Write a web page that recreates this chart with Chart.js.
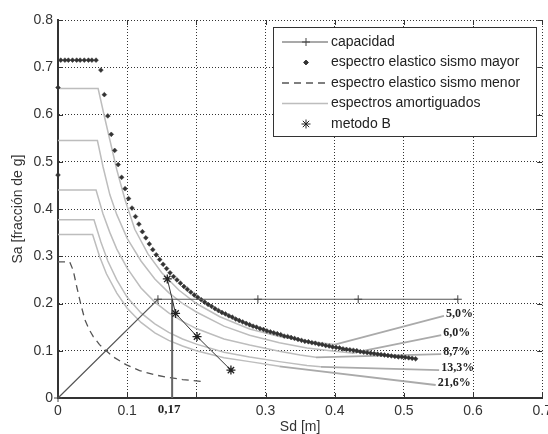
<!DOCTYPE html>
<html>
<head>
<meta charset="utf-8">
<script src="https://cdn.jsdelivr.net/npm/chart.js@4"></script>
<style>
  html, body { margin: 0; padding: 0; background: #fff; }
  #wrap { width: 548px; height: 434px; }
</style>
</head>
<body>
<div id="wrap"><canvas id="chart" width="548" height="434"></canvas></div>
<script>
// tick labels (0.2 is hidden behind the 0,17 mark in the original)
var xTickLabels = ['0', '0.1', '', '0.3', '0.4', '0.5', '0.6', '0.7'];
var yTickLabels = ['0', '0.1', '0.2', '0.3', '0.4', '0.5', '0.6', '0.7', '0.8'];

// capacity curve
var capSd = [0, 0.1445, 0.289, 0.434, 0.578];
var capSa = [0, 0.209, 0.209, 0.209, 0.209];

// elastic spectrum, major earthquake (dots)
var mayorSd = [0, 0, 0.004, 0.010, 0.015, 0.021, 0.027, 0.032, 0.038, 0.044, 0.049, 0.055,
  0.062, 0.067, 0.072, 0.077, 0.082, 0.087, 0.092, 0.097, 0.102, 0.107,
  0.112, 0.117, 0.122, 0.127, 0.132, 0.137, 0.142, 0.147, 0.152, 0.157,
  0.162, 0.167, 0.172, 0.177, 0.182, 0.187, 0.192, 0.197, 0.202, 0.207,
  0.212, 0.217, 0.222, 0.227, 0.232, 0.237, 0.242, 0.247, 0.252, 0.257,
  0.262, 0.267, 0.272, 0.277, 0.282, 0.287, 0.292, 0.297, 0.302, 0.307,
  0.312, 0.317, 0.322, 0.327, 0.332, 0.337, 0.342, 0.347, 0.352, 0.357,
  0.362, 0.367, 0.372, 0.377, 0.382, 0.387, 0.392, 0.397, 0.402, 0.407,
  0.412, 0.417, 0.422, 0.427, 0.432, 0.437, 0.442, 0.447, 0.452, 0.457,
  0.462, 0.467, 0.472, 0.477, 0.482, 0.487, 0.492, 0.497, 0.502, 0.507,
  0.512, 0.517];
var mayorSa = [0.472, 0.657, 0.715, 0.715, 0.715, 0.715, 0.715, 0.715, 0.715, 0.715, 0.715, 0.715,
  0.694, 0.642, 0.597, 0.558, 0.524, 0.494, 0.467, 0.443, 0.422, 0.402,
  0.384, 0.368, 0.352, 0.339, 0.326, 0.314, 0.303, 0.293, 0.283, 0.274,
  0.265, 0.257, 0.250, 0.243, 0.236, 0.230, 0.224, 0.218, 0.213, 0.208,
  0.203, 0.198, 0.194, 0.189, 0.185, 0.181, 0.178, 0.174, 0.171, 0.167,
  0.164, 0.161, 0.158, 0.155, 0.152, 0.150, 0.147, 0.145, 0.142, 0.140,
  0.138, 0.136, 0.134, 0.131, 0.130, 0.128, 0.126, 0.124, 0.122, 0.120,
  0.119, 0.117, 0.116, 0.114, 0.113, 0.111, 0.110, 0.108, 0.107, 0.106,
  0.104, 0.103, 0.102, 0.101, 0.100, 0.098, 0.097, 0.096, 0.095, 0.094,
  0.093, 0.092, 0.091, 0.090, 0.089, 0.088, 0.087, 0.087, 0.086, 0.085,
  0.084, 0.083];

// elastic spectrum, minor earthquake (dashed)
var menorSd = [0, 0.017, 0.022, 0.027, 0.033, 0.039, 0.045, 0.051, 0.060, 0.068, 0.080, 0.099, 0.118, 0.140, 0.157, 0.180, 0.207];
var menorSa = [0.288, 0.288, 0.270, 0.236, 0.198, 0.165, 0.145, 0.130, 0.113, 0.102, 0.087, 0.070, 0.058, 0.049, 0.044, 0.039, 0.035];

// damped spectra
var dampLabels = ['5,0%', '6,0%', '8,7%', '13,3%', '21,6%'];
var amort1Sd = [0, 0.058, 0.068, 0.075, 0.085, 0.097, 0.111, 0.130, 0.150, 0.175, 0.200, 0.234, 0.277, 0.320, 0.360, 0.400];
var amort1Sa = [0.655, 0.655, 0.590, 0.546, 0.483, 0.419, 0.357, 0.305, 0.265, 0.228, 0.200, 0.172, 0.146, 0.130, 0.120, 0.113];
var amort2Sd = [0, 0.057, 0.065, 0.075, 0.085, 0.100, 0.120, 0.140, 0.160, 0.180, 0.200, 0.240, 0.277, 0.320, 0.360, 0.400, 0.425];
var amort2Sa = [0.545, 0.545, 0.490, 0.430, 0.388, 0.338, 0.290, 0.252, 0.223, 0.200, 0.182, 0.152, 0.133, 0.117, 0.106, 0.099, 0.095];
var amort3Sd = [0, 0.055, 0.065, 0.075, 0.085, 0.100, 0.120, 0.140, 0.160, 0.180, 0.200, 0.240, 0.277, 0.320, 0.350, 0.373];
var amort3Sa = [0.440, 0.440, 0.390, 0.350, 0.315, 0.275, 0.233, 0.203, 0.180, 0.162, 0.147, 0.125, 0.112, 0.099, 0.091, 0.086];
var amort4Sd = [0, 0.052, 0.062, 0.072, 0.085, 0.100, 0.120, 0.140, 0.160, 0.180, 0.200, 0.240, 0.277, 0.320, 0.360, 0.380];
var amort4Sa = [0.377, 0.377, 0.330, 0.290, 0.250, 0.213, 0.180, 0.157, 0.139, 0.125, 0.114, 0.097, 0.087, 0.077, 0.069, 0.066];
var amort5Sd = [0, 0.050, 0.060, 0.070, 0.085, 0.100, 0.120, 0.140, 0.160, 0.180, 0.200, 0.240, 0.277, 0.320];
var amort5Sa = [0.346, 0.346, 0.300, 0.263, 0.222, 0.190, 0.160, 0.138, 0.122, 0.110, 0.100, 0.085, 0.077, 0.067];
// where each damping label sits
var labelSd = [0.558, 0.554, 0.554, 0.551, 0.546];
var labelSa = [0.174, 0.133, 0.093, 0.059, 0.0275];

// method B iterations
var metodoBSd = [0.158, 0.170, 0.201, 0.250];
var metodoBSa = [0.252, 0.179, 0.130, 0.059];

// performance point displacement
var puntoSd = 0.165;
var puntoLabel = '0,17';

function pts(xs, ys) {
  return xs.map(function (x, i) { return { x: x, y: ys[i] }; });
}

var amortSd = [amort1Sd, amort2Sd, amort3Sd, amort4Sd, amort5Sd];
var amortSa = [amort1Sa, amort2Sa, amort3Sa, amort4Sa, amort5Sa];

var datasets = [
  {
    label: 'metodo B', data: pts(metodoBSd, metodoBSa), showLine: true,
    borderColor: '#333', borderWidth: 1, pointStyle: 'star', pointRadius: 4.5,
    pointBorderColor: '#222', pointBorderWidth: 1.3, legendKind: 'marker'
  },
  {
    label: 'capacidad', data: pts(capSd, capSa), showLine: true,
    borderColor: '#555', borderWidth: 1.2, pointStyle: 'cross', pointRadius: 4,
    pointBorderColor: '#444', pointBorderWidth: 1, legendKind: 'lineMarker', clip: false
  },
  {
    label: '', data: pts([puntoSd, puntoSd], [0, capSa[1]]), showLine: true,
    borderColor: '#666', borderWidth: 2, pointRadius: 0
  },
  {
    label: 'espectro elastico sismo mayor', data: pts(mayorSd, mayorSa), showLine: false,
    pointStyle: 'rectRot', pointRadius: 2.4, pointBackgroundColor: '#333',
    pointBorderColor: '#333', pointBorderWidth: 0.5, legendKind: 'marker', clip: false
  },
  {
    label: 'espectro elastico sismo menor', data: pts(menorSd, menorSa), showLine: true,
    borderColor: '#555', borderWidth: 1.3, borderDash: [7, 5], pointRadius: 0, legendKind: 'line'
  }
];

amortSd.forEach(function (sd, i) {
  var sa = amortSa[i];
  datasets.push({
    label: i === 0 ? 'espectros amortiguados' : '', data: pts(sd, sa), showLine: true,
    borderColor: '#bdbdbd', borderWidth: 1.5, pointRadius: 0, legendKind: i === 0 ? 'line' : null
  });
  datasets.push({
    label: '', data: pts([sd[sd.length - 1], labelSd[i]], [sa[sa.length - 1], labelSa[i]]), showLine: true,
    borderColor: '#aaa', borderWidth: 1.8, pointRadius: 0
  });
});

var legendOrder = ['capacidad', 'espectro elastico sismo mayor', 'espectro elastico sismo menor', 'espectros amortiguados', 'metodo B'];

var innerTicks = {
  id: 'innerTicks',
  beforeDatasetsDraw: function (chart) {
    var a = chart.chartArea, ctx = chart.ctx;
    var xs = chart.scales.x, ys = chart.scales.y;
    ctx.save();
    ctx.strokeStyle = '#333';
    ctx.lineWidth = 1;
    ctx.beginPath();
    xs.ticks.forEach(function (t) {
      var px = Math.round(xs.getPixelForValue(t.value)) + 0.5;
      ctx.moveTo(px, a.bottom); ctx.lineTo(px, a.bottom - 5);
      ctx.moveTo(px, a.top); ctx.lineTo(px, a.top + 5);
    });
    ys.ticks.forEach(function (t) {
      var py = Math.round(ys.getPixelForValue(t.value)) + 0.5;
      ctx.moveTo(a.left, py); ctx.lineTo(a.left + 5, py);
      ctx.moveTo(a.right, py); ctx.lineTo(a.right - 5, py);
    });
    ctx.stroke();
    ctx.restore();
  }
};

var notes = {
  id: 'notes',
  afterDatasetsDraw: function (chart) {
    var ctx = chart.ctx, xs = chart.scales.x, ys = chart.scales.y;
    ctx.save();
    ctx.fillStyle = '#222';
    ctx.font = 'bold 12px "Liberation Serif", serif';
    ctx.textAlign = 'left';
    ctx.textBaseline = 'middle';
    dampLabels.forEach(function (t, i) {
      ctx.fillText(t, xs.getPixelForValue(labelSd[i]) + 2, ys.getPixelForValue(labelSa[i]) - 2);
    });
    ctx.font = 'bold 13px "Liberation Serif", serif';
    ctx.textAlign = 'center';
    ctx.textBaseline = 'top';
    ctx.fillText(puntoLabel, xs.getPixelForValue(puntoSd) - 3, chart.chartArea.bottom + 5);
    ctx.restore();
  }
};

var boxLegend = {
  id: 'boxLegend',
  afterDraw: function (chart) {
    var ctx = chart.ctx, a = chart.chartArea;
    var bx = a.left + 215, by = a.top + 7, bw = 263, bh = 109;
    ctx.save();
    ctx.fillStyle = '#fff';
    ctx.fillRect(bx, by, bw, bh);
    ctx.strokeStyle = '#333';
    ctx.lineWidth = 1;
    ctx.strokeRect(bx + 0.5, by + 0.5, bw, bh);
    ctx.font = '14px "Liberation Sans", Arial, sans-serif';
    ctx.textBaseline = 'middle';
    ctx.textAlign = 'left';
    legendOrder.forEach(function (name, i) {
      var ds = chart.data.datasets.filter(function (d) { return d.label === name; })[0];
      var y = by + 15 + i * 20.5;
      var x1 = bx + 9, x2 = bx + 55, xm = bx + 33;
      if (ds.legendKind === 'line' || ds.legendKind === 'lineMarker') {
        ctx.save();
        ctx.strokeStyle = ds.borderColor;
        ctx.lineWidth = ds.borderWidth;
        ctx.setLineDash(ds.borderDash || []);
        ctx.beginPath();
        ctx.moveTo(x1, y); ctx.lineTo(x2, y);
        ctx.stroke();
        ctx.restore();
      }
      if (ds.legendKind === 'marker' || ds.legendKind === 'lineMarker') {
        ctx.save();
        ctx.fillStyle = ds.pointBackgroundColor || ds.pointBorderColor;
        ctx.strokeStyle = ds.pointBorderColor;
        Chart.helpers.drawPoint(ctx, {
          pointStyle: ds.pointStyle, radius: ds.pointRadius, rotation: 0, borderWidth: ds.pointBorderWidth
        }, xm, y);
        ctx.restore();
      }
      ctx.fillStyle = '#222';
      ctx.fillText(name, bx + 58, y);
    });
    ctx.restore();
  }
};

var tickFont = { family: '"Liberation Sans", Arial, sans-serif', size: 14 };

new Chart(document.getElementById('chart'), {
  type: 'scatter',
  data: { datasets: datasets },
  options: {
    responsive: false,
    animation: false,
    devicePixelRatio: 1,
    layout: { padding: { top: 20, right: 5, left: 0, bottom: 0 } },
    plugins: { legend: { display: false }, tooltip: { enabled: false } },
    scales: {
      x: {
        type: 'linear', min: 0, max: 0.7,
        ticks: {
          stepSize: 0.1, color: '#333', font: tickFont, padding: 5, maxRotation: 0, autoSkip: false,
          callback: function (v, i) { return xTickLabels[i]; }
        },
        grid: { color: '#333', lineWidth: 1, drawTicks: false },
        border: { display: true, color: '#333', width: 2, dash: [1, 2] },
        title: { display: true, text: 'Sd [m]', color: '#333', font: { family: tickFont.family, size: 14, lineHeight: 1 }, padding: { top: 0, bottom: 0 } },
        afterFit: function (s) { s.height = 36; s.paddingRight = 0; }
      },
      y: {
        type: 'linear', min: 0, max: 0.8,
        ticks: {
          stepSize: 0.1, color: '#333', font: tickFont, padding: 5, autoSkip: false,
          callback: function (v, i) { return yTickLabels[i]; }
        },
        grid: { color: '#333', lineWidth: 1, drawTicks: false },
        border: { display: true, color: '#333', width: 2, dash: [1, 2] },
        title: { display: true, text: 'Sa [fracción de g]', color: '#333', font: { family: tickFont.family, size: 14, lineHeight: 1 }, padding: { top: 11, bottom: 0 } },
        afterFit: function (s) { s.width = 58; }
      }
    }
  },
  plugins: [innerTicks, notes, boxLegend]
});
</script>
</body>
</html>
